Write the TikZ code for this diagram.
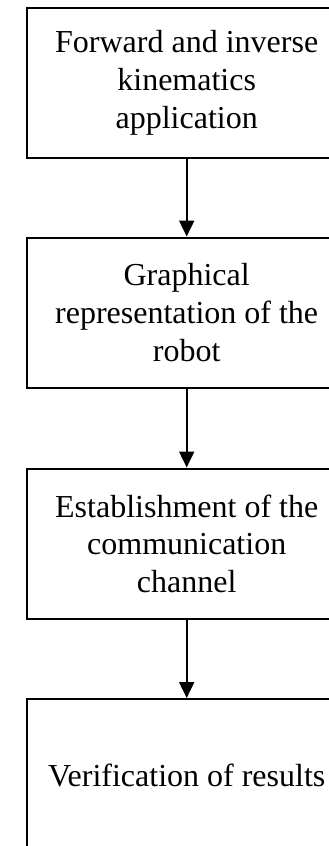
\documentclass[tikz,border=0pt]{standalone}
\usepackage{fontspec}
\setmainfont{Liberation Serif}
\usetikzlibrary{arrows.meta}
\begin{document}
\begin{tikzpicture}[x=1pt,y=1pt,
  stage/.style={draw=black, line width=2pt, rectangle,
    minimum width=318.7pt, minimum height=150.5pt, inner sep=0pt,
    align=center, font=\fontsize{32}{37.8}\selectfont},
  flow/.style={draw=black, line width=2pt,
    -{Triangle[length=16pt,width=15pt]}}]
  \useasboundingbox (0,0) rectangle (329,-846);
  \clip (0,0) rectangle (329,-846);
  \fill[white] (0,0) rectangle (329,-846);
  \node[stage] (s1) at (186.7,-82.75) {Forward and inverse\\kinematics\\application};
  \node[stage] (s2) at (186.7,-312.75) {Graphical\\representation of the\\robot};
  \node[stage] (s3) at (186.7,-543.75) {Establishment of the\\communication\\channel};
  \node[stage, minimum height=152pt] (s4) at (186.7,-775) {Verification of results};
  \draw[flow] (s1.south) -- (s2.north);
  \draw[flow] (s2.south) -- (s3.north);
  \draw[flow] (s3.south) -- (s4.north);
\end{tikzpicture}
\end{document}
